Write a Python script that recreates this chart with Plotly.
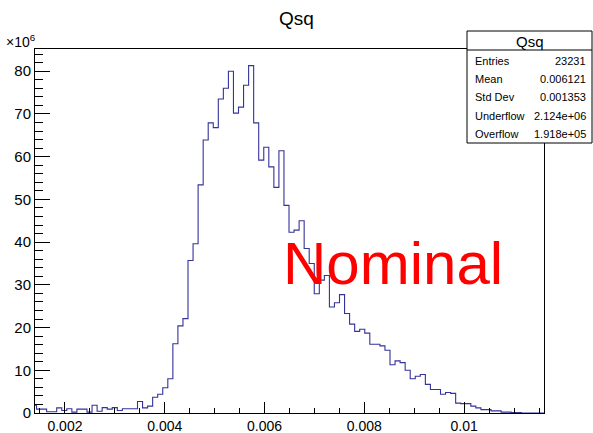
import plotly.graph_objects as go

# Histogram "Qsq": bin counts in units of 1e6, first (partial) bin at the left edge
bin_lo = 0.001329
bin_width = 0.0001012
counts_1e6 = [
    1.8, 0.9, 0.9, 0.3, 0.3, 1.2, 0.6, 1.0, 0.2, 0.9,
    0.9, 0.2, 1.8, 0.4, 1.25, 0.9, 1.25, 0.6, 1.0, 1.0,
    1.0, 2.7, 1.2, 1.6, 3.7, 4.4, 5.9, 8.0, 16.2, 20.4,
    22.1, 35.7, 39.6, 53.4, 63.9, 67.9, 66.8, 73.5, 76.0, 80.0,
    70.2, 71.6, 76.7, 81.3, 67.9, 59.2, 62.2, 57.6, 52.8, 61.4,
    48.6, 42.3, 42.8, 45.0, 38.5, 35.0, 27.9, 31.1, 32.2, 24.8,
    25.8, 27.7, 23.3, 20.8, 19.1, 19.6, 18.7, 16.1, 16.1, 15.7,
    14.7, 11.3, 12.2, 11.8, 10.0, 8.0, 8.6, 9.0, 6.7, 5.5,
    5.5, 4.4, 4.8, 4.6, 2.3, 2.2, 2.2, 1.6, 1.2, 0.8,
    0.8, 0.5, 0.5, 0.2, 0.2, 0.1, 0.1, 0.0, 0.0, 0.0,
    0.0, 0.0,
]

x_ticks = [0.002, 0.004, 0.006, 0.008, 0.01]
x_tick_text = ["0.002", "0.004", "0.006", "0.008", "0.01"]
y_ticks = [0, 10, 20, 30, 40, 50, 60, 70, 80]

stats_title = "Qsq"
stats_labels = ["Entries", "Mean", "Std Dev", "Underflow", "Overflow"]
stats_values = ["23231", "0.006121", "0.001353", "2.124e+06", "1.918e+05"]

x_range = [0.0014, 0.0116]
y_range = [0, 85.2]

# step outline of the histogram
edges = [bin_lo + i * bin_width for i in range(len(counts_1e6) + 1)]
xs = [edges[0]] + edges[:-1] + [edges[-1], edges[-1]]
ys = [0.0] + counts_1e6 + [counts_1e6[-1], 0.0]

W, H = 593, 433
L, R, T, B = 35, 49, 49, 20
FONT = "Liberation Sans, Arial, Helvetica, sans-serif"


def px_x(px):
    return (px - L) / (W - L - R)


def px_y(py):
    return (H - B - py) / (H - T - B)


fig = go.Figure()
fig.add_trace(go.Scatter(
    x=xs, y=ys, mode="lines", line_shape="hv",
    line=dict(color="#333399", width=1.1), hoverinfo="skip", showlegend=False,
))

fig.update_xaxes(
    range=x_range, tickvals=x_ticks, ticktext=x_tick_text, automargin=False,
    ticks="inside", ticklen=11, tickcolor="black", tickwidth=1,
    minor=dict(dtick=0.0005, tick0=0, ticks="inside", ticklen=5, tickcolor="black", tickwidth=1),
    showline=True, linecolor="black", linewidth=1, mirror=True,
    showgrid=False, zeroline=False,
    tickfont=dict(family=FONT, size=14, color="black"),
)
fig.update_yaxes(
    range=y_range, tickvals=y_ticks, automargin=False,
    ticks="inside", ticklen=15, tickcolor="black", tickwidth=1,
    minor=dict(dtick=2, tick0=0, ticks="inside", ticklen=8, tickcolor="black", tickwidth=1),
    showline=True, linecolor="black", linewidth=1, mirror=True,
    showgrid=False, zeroline=False,
    tickfont=dict(family=FONT, size=15, color="black"),
)

annotations = [
    dict(text="Qsq", x=0.5, y=px_y(18), xref="paper", yref="paper",
         xanchor="center", yanchor="middle", showarrow=False,
         font=dict(family=FONT, size=19, color="black"), xshift=(W / 2 - L - (W - L - R) / 2)),
    dict(text="×10<sup>6</sup>", x=px_x(4), y=px_y(41), xref="paper", yref="paper",
         xanchor="left", yanchor="middle", showarrow=False,
         font=dict(family=FONT, size=14, color="black")),
    dict(text="Nominal", x=px_x(281), y=px_y(263), xref="paper", yref="paper",
         xanchor="left", yanchor="middle", showarrow=False,
         font=dict(family=FONT, size=60, color="#ff0000")),
]

# statistics box
bx0, bx1, by0, by1, bsep = 467, 592, 31, 143, 50
shapes = [
    dict(type="rect", xref="paper", yref="paper", x0=px_x(bx0), x1=px_x(bx1),
         y0=px_y(by1), y1=px_y(by0), line=dict(color="black", width=1),
         fillcolor="white", layer="above"),
    dict(type="line", xref="paper", yref="paper", x0=px_x(bx0), x1=px_x(bx1),
         y0=px_y(bsep), y1=px_y(bsep), line=dict(color="black", width=1), layer="above"),
]
annotations.append(dict(text=stats_title, x=px_x((bx0 + bx1) / 2), y=px_y(41),
                        xref="paper", yref="paper", xanchor="center", yanchor="middle",
                        showarrow=False, font=dict(family=FONT, size=15, color="black")))
row_y = [61, 79.3, 97.5, 115.7, 134]
for lab, val, yy in zip(stats_labels, stats_values, row_y):
    annotations.append(dict(text=lab, x=px_x(473), y=px_y(yy), xref="paper", yref="paper",
                            xanchor="left", yanchor="middle", showarrow=False,
                            font=dict(family=FONT, size=11, color="black")))
    annotations.append(dict(text=val, x=px_x(588), y=px_y(yy), xref="paper", yref="paper",
                            xanchor="right", yanchor="middle", showarrow=False,
                            font=dict(family=FONT, size=11, color="black")))

fig.update_layout(
    width=W, height=H, autosize=False,
    margin=dict(l=L, r=R, t=T, b=B, pad=0),
    paper_bgcolor="white", plot_bgcolor="white",
    annotations=annotations, shapes=shapes,
)

fig.write_html("out.html")
